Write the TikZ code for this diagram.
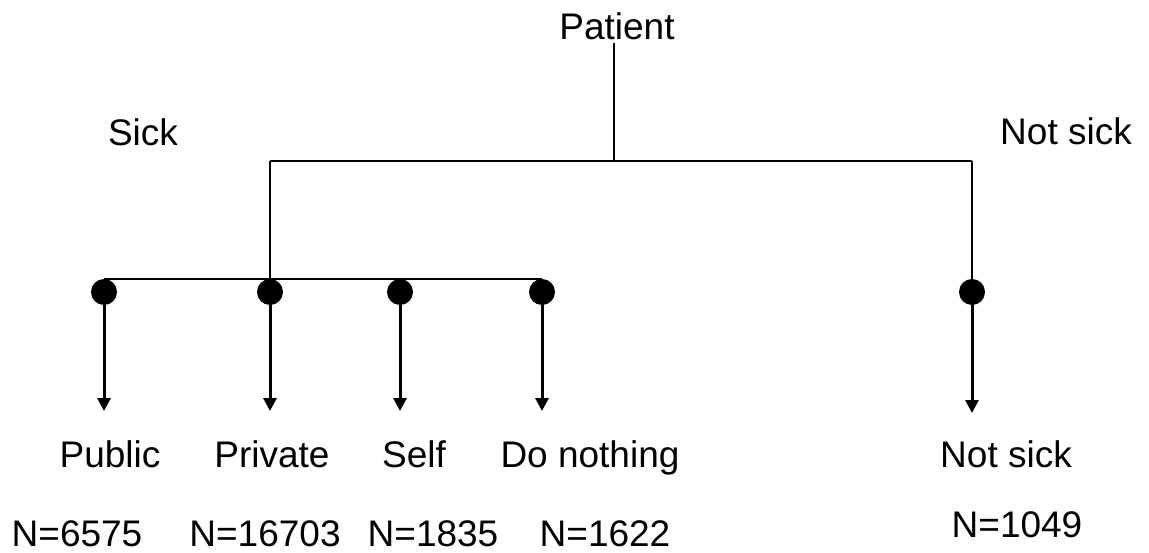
\documentclass[tikz,border=0pt]{standalone}
\usepackage{fontspec}
\setmainfont{Liberation Sans}
\usetikzlibrary{arrows.meta}
\begin{document}
\begin{tikzpicture}[x=1pt,y=-1pt,
  lbl/.style={font=\fontsize{37}{44}\selectfont, anchor=base, inner sep=0pt},
  dot/.style={circle, fill=black, minimum size=26pt, inner sep=0pt},
  link/.style={line width=2pt},
  branch/.style={line width=3pt, -{Triangle[width=13pt,length=13pt]}}]
\useasboundingbox (0,0) rectangle (1149,553);

% root and first split
\node[lbl] (patient) at (617,40) {Patient};
\node[lbl] (sick) at (143,146) {Sick};
\node[lbl] (notsicktop) at (1066,145) {Not sick};
\coordinate (top) at (614,161);
\coordinate (sickfork) at (270,161);
\coordinate (wellfork) at (972,161);

% choice points
\node[dot] (dpub) at (104,292) {};
\node[dot] (dpriv) at (270,292) {};
\node[dot] (dself) at (400,292) {};
\node[dot] (dnone) at (542,292) {};
\node[dot] (dwell) at (972,292) {};

% arrow tips
\coordinate (tpub) at (104,411);
\coordinate (tpriv) at (270,411);
\coordinate (tself) at (400,411);
\coordinate (tnone) at (542,411);
\coordinate (twell) at (972,413);

% outcome labels
\node[lbl] (public) at (110,467) {Public};
\node[lbl] (private) at (272,467) {Private};
\node[lbl] (self) at (414,467) {Self};
\node[lbl] (donothing) at (590,467) {Do nothing};
\node[lbl] (notsick) at (1006,467) {Not sick};

% counts
\node[lbl] (npub) at (77,546) {N=6575};
\node[lbl] (npriv) at (265,546) {N=16703};
\node[lbl] (nself) at (433,546) {N=1835};
\node[lbl] (nnone) at (605,546) {N=1622};
\node[lbl] (nwell) at (1017,537) {N=1049};

% tree lines
\draw[link] ([yshift=-2pt]top |- patient.south) -- (top);
\draw[link] (sickfork) -- (wellfork);
\draw[link] (sickfork) -- (dpriv.center);
\draw[link] (wellfork) -- (dwell.center);
\draw[link] (dpub.north) -- (dnone.north);

% branches
\foreach \d/\t in {dpub/tpub, dpriv/tpriv, dself/tself, dnone/tnone, dwell/twell}
  \draw[branch] (\d.center) -- (\t);
\end{tikzpicture}
\end{document}
